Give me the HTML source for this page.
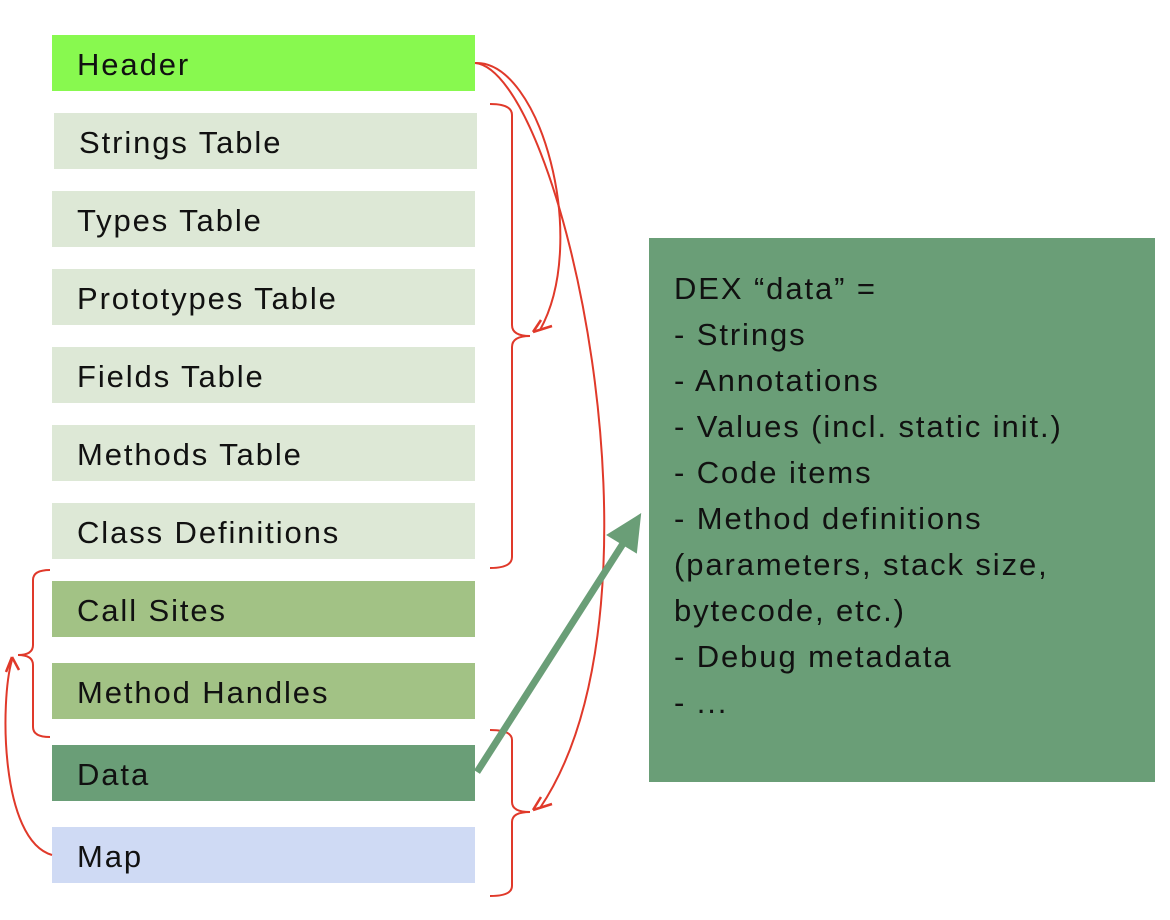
<!DOCTYPE html>
<html><head><meta charset="utf-8"><style>
body{margin:0;width:1170px;height:920px;background:#fff;position:relative;overflow:hidden;font-family:"Liberation Sans",sans-serif}
.b{position:absolute;left:52px;width:423px;height:56px;box-sizing:border-box;padding-left:25px;padding-top:2px;font-size:31px;letter-spacing:1.9px;line-height:56px;color:#111;white-space:nowrap}
.l{background:#dde8d6}
#r{position:absolute;left:649px;top:238px;width:506px;height:544px;background:#6a9e77;box-sizing:border-box;padding:28px 0 0 25px;font-size:31px;letter-spacing:1.9px;line-height:46px;color:#111;white-space:nowrap}
svg{position:absolute;left:0;top:0}
</style></head><body>
<div class="b" style="top:35px;background:#88f94f">Header</div>
<div class="b l" style="top:113px;left:54px">Strings Table</div>
<div class="b l" style="top:191px">Types Table</div>
<div class="b l" style="top:269px">Prototypes Table</div>
<div class="b l" style="top:347px">Fields Table</div>
<div class="b l" style="top:425px">Methods Table</div>
<div class="b l" style="top:503px">Class Definitions</div>
<div class="b" style="top:581px;background:#a2c285">Call Sites</div>
<div class="b" style="top:663px;background:#a2c285">Method Handles</div>
<div class="b" style="top:745px;background:#6a9e77">Data</div>
<div class="b" style="top:827px;background:#cfdaf4">Map</div>
<div id="r">DEX “data” =<br>- Strings<br>- Annotations<br>- Values (incl. static init.)<br>- Code items<br>- Method definitions<br>(parameters, stack size,<br>bytecode, etc.)<br>- Debug metadata<br>- ...</div>
<svg width="1170" height="920" fill="none" stroke="#e0392a" stroke-width="2">
<path d="M490,104 Q512,104 512,115 L512,325 Q512,336 530,336 Q512,336 512,347 L512,557 Q512,568 490,568"/>
<path d="M490,730 Q512,730 512,740 L512,802 Q512,812 530,812 Q512,812 512,822 L512,886 Q512,896 490,896"/>
<path d="M50,570 Q33,570 33,580 L33,645 Q33,655 18,655 Q33,655 33,665 L33,727 Q33,737 50,737"/>
<path d="M475,63 C540,60 590,240 540,330"/>
<path d="M475,63 C560,70 680,600 540,808"/>
<path d="M52,855 C0,840 0,700 12,660"/>
<path d="M533,332 L541,320 M533,332 L552,326" stroke-width="2.5"/>
<path d="M533,810 L541,797 M533,810 L552,804" stroke-width="2.5"/>
<path d="M12,657 L6,672 M12,657 L19,670" stroke-width="2.5"/>
<path d="M477,772 L633,528" stroke="#6a9e77" stroke-width="7"/>
<path d="M640,515 L608,535 L636,552 Z" fill="#6a9e77" stroke="#6a9e77" stroke-width="2"/>
</svg>
</body></html>
